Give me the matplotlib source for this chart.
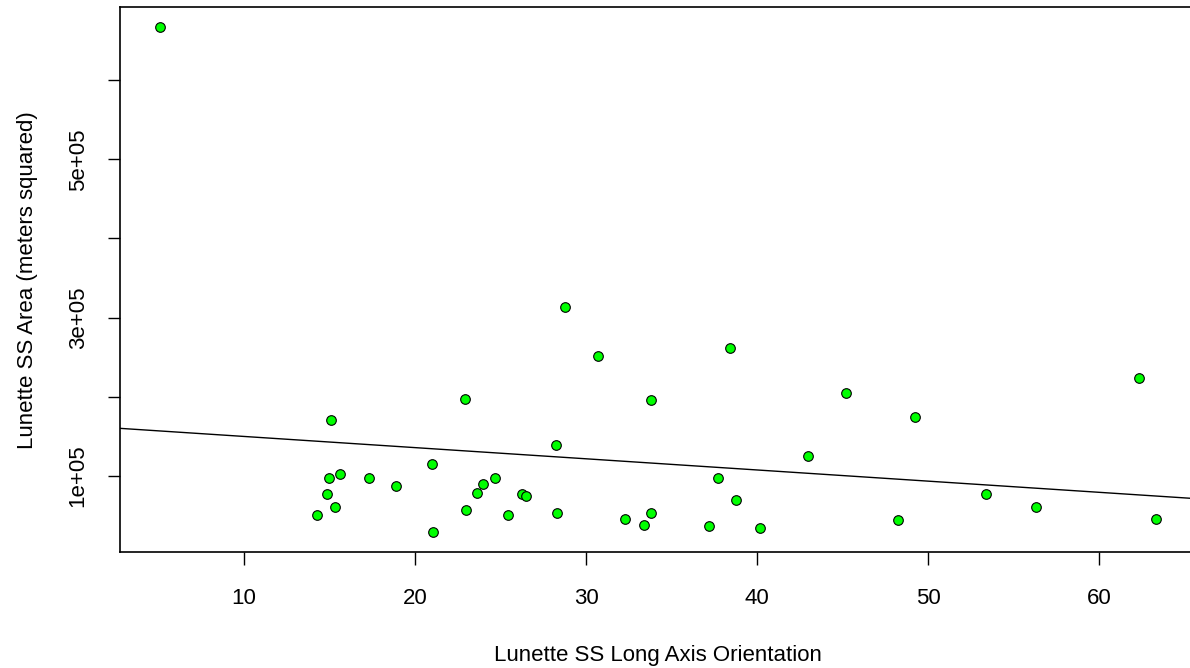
import numpy as np
import matplotlib
matplotlib.use("Agg")
import matplotlib.pyplot as plt

plt.rcParams['font.family'] = ['Liberation Sans', 'DejaVu Sans']

# lunette long axis orientation vs area
orientation = [5.09, 15.11, 22.91, 21.01, 14.99, 15.60, 17.31, 18.91, 14.84, 15.35,
               14.25, 21.03, 22.96, 23.63, 24.00, 24.67, 28.75, 30.68, 38.40, 33.82,
               45.19, 28.25, 43.00, 26.27, 26.47, 25.45, 28.32, 32.30, 33.39, 33.82,
               37.72, 38.75, 37.21, 40.19, 49.26, 62.31, 48.25, 53.41, 56.30, 63.33]
area = [667000, 170100, 197500, 115200, 96700, 102200, 96700, 87300, 76500, 60000,
        50600, 28700, 56600, 78100, 89100, 96700, 313500, 251100, 262000, 195800,
        205100, 139200, 124600, 76300, 74700, 50600, 52800, 45600, 38000, 52800,
        96700, 69200, 36000, 34200, 173900, 223300, 43500, 76500, 60000, 45200]

x_ticks = [10, 20, 30, 40, 50, 60]
y_ticks = [100000, 200000, 300000, 400000, 500000, 600000]
y_labels = ["1e+05", "", "3e+05", "", "5e+05", ""]

x = np.array(orientation)
y = np.array(area)

fig = plt.figure(figsize=(11.9, 6.68), dpi=100)
ax = fig.add_axes([0.1010, 0.1732, 0.9039, 0.8163])

ax.scatter(x, y, s=48, c="#00ff00", edgecolors="black", linewidths=0.8, zorder=3)

# R style 4% padding on both axes
xr = x.max() - x.min()
yr = y.max() - y.min()
ax.set_xlim(x.min() - 0.04 * xr, x.max() + 0.04 * xr)
ax.set_ylim(y.min() - 0.04 * yr, y.max() + 0.04 * yr)

# abline(lm(area ~ orientation))
slope, inter = np.polyfit(x, y, 1)
xx = np.array(ax.get_xlim())
ax.plot(xx, inter + slope * xx, color="black", lw=1.0, zorder=2)

ax.set_xticks(x_ticks)
ax.set_yticks(y_ticks)
ax.set_yticklabels(y_labels, rotation=90, va="center")
ax.tick_params(axis="both", direction="out", length=9, width=1.0, labelsize=16)
ax.tick_params(axis="x", pad=16.5)
ax.tick_params(axis="y", pad=13.7)

for sp in ax.spines.values():
    sp.set_linewidth(1.2)

ax.set_xlabel("Lunette SS Long Axis Orientation", fontsize=16, labelpad=26)
ax.set_ylabel("Lunette SS Area (meters squared)", fontsize=16, labelpad=21.6)

fig.savefig("out.png", dpi=100)
